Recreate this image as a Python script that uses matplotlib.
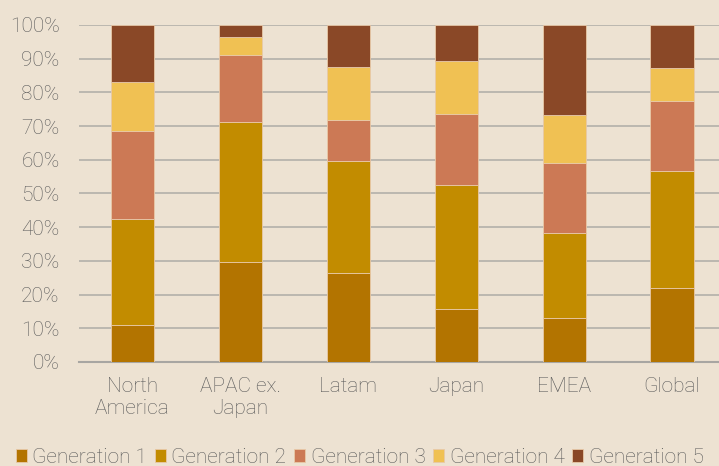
import matplotlib.pyplot as plt
import numpy as np

regions = ["North\nAmerica", "APAC ex.\nJapan", "Latam", "Japan", "EMEA", "Global"]
gen1 = [11.0, 29.7, 26.4, 15.7, 13.1, 22.0]
gen2 = [31.5, 41.5, 33.2, 36.8, 25.2, 34.7]
gen3 = [26.0, 19.9, 12.2, 21.1, 20.8, 20.7]
gen4 = [14.5, 5.3, 15.7, 15.7, 14.2, 9.8]
gen5 = [17.0, 3.6, 12.5, 10.7, 26.7, 12.8]
series = [gen1, gen2, gen3, gen4, gen5]
labels = ["Generation 1", "Generation 2", "Generation 3", "Generation 4", "Generation 5"]
colors = ["#B37400", "#C28C00", "#CC7955", "#F0C153", "#8A4827"]

bg = "#EDE2D2"
txt = "#5A5A5A"
fs = 15
plt.rcParams['font.family'] = ['Roboto', 'DejaVu Sans']

fig = plt.figure(figsize=(7.19, 4.66), dpi=100, facecolor=bg)
ax = fig.add_axes([0.1099, 0.2232, 0.8901, 0.7232])
ax.set_facecolor(bg)

x = np.arange(len(regions))
bottom = np.zeros(len(regions))
handles = []
for vals, lab, col in zip(series, labels, colors):
    b = ax.bar(x, vals, 0.4, bottom=bottom, color=col, label=lab,
               edgecolor="#E8C9A8", linewidth=0.6, zorder=3)
    handles.append(b)
    bottom += np.array(vals)

ax.set_ylim(0, 100)
ax.set_xlim(-0.495, 5.435)
ax.set_yticks(range(0, 101, 10))
ax.set_yticklabels([f"{v}%" for v in range(0, 101, 10)])
ax.set_xticks(x)
ax.set_xticklabels(regions, linespacing=1.15)
ax.grid(axis='y', color="#B3B0AA", linewidth=1.2, zorder=0)
for s in ["top", "right", "left"]:
    ax.spines[s].set_visible(False)
ax.spines["bottom"].set_color("#A8A6A2")
ax.spines["bottom"].set_linewidth(1.5)
ax.tick_params(axis='both', length=0, labelsize=fs, labelcolor=txt)
ax.tick_params(axis='y', pad=14)
ax.tick_params(axis='x', pad=11)
for t in ax.get_xticklabels() + ax.get_yticklabels():
    t.set_fontweight('light')

leg = fig.legend(handles=handles, labels=labels, loc='lower center', ncol=5,
                 bbox_to_anchor=(0.5, -0.042), frameon=False, fontsize=fs,
                 handlelength=0.55, handleheight=0.55, handletextpad=0.25,
                 columnspacing=0.36, labelcolor=txt)
for t in leg.get_texts():
    t.set_fontweight('light')

fig.savefig("out.png", dpi=100, facecolor=bg)
